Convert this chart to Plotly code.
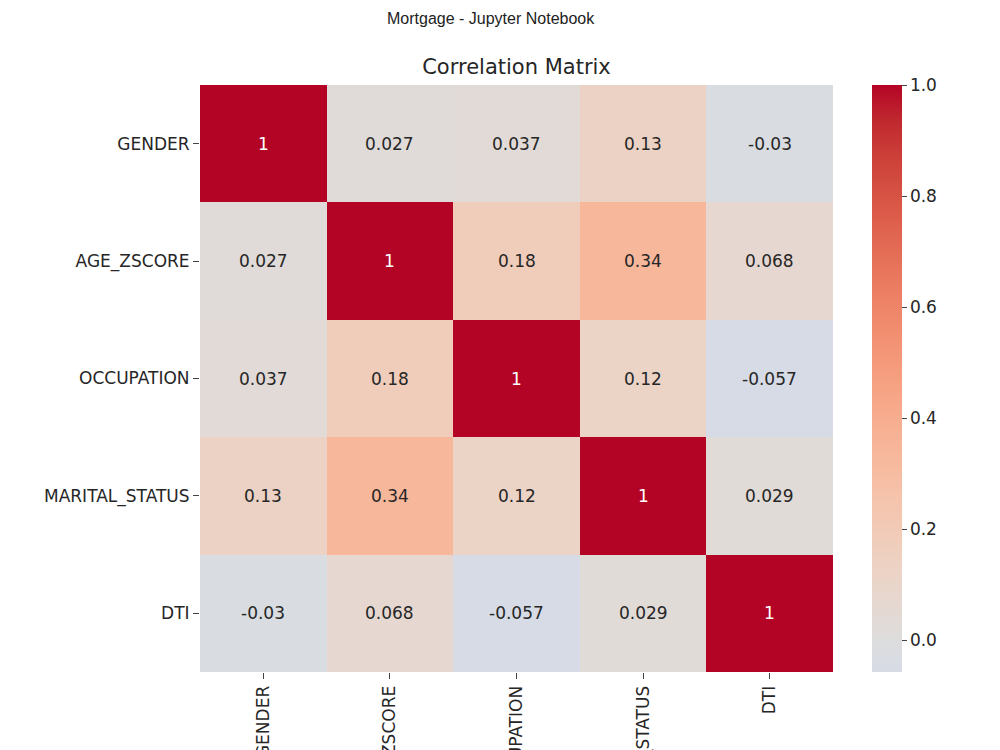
import plotly.graph_objects as go

labels = ["GENDER", "AGE_ZSCORE", "OCCUPATION", "MARITAL_STATUS", "DTI"]
corr = [
    [1.0, 0.027, 0.037, 0.13, -0.03],
    [0.027, 1.0, 0.18, 0.34, 0.068],
    [0.037, 0.18, 1.0, 0.12, -0.057],
    [0.13, 0.34, 0.12, 1.0, 0.029],
    [-0.03, 0.068, -0.057, 0.029, 1.0],
]
cbar_ticks = [0.0, 0.2, 0.4, 0.6, 0.8, 1.0]

# matplotlib "coolwarm" reference points (t in [0,1] over [-1, 1])
coolwarm = [
    (0.46875, (213, 219, 230)), (0.5, (221, 221, 221)), (0.53125, (229, 216, 209)),
    (0.5625, (236, 211, 197)), (0.59375, (241, 204, 185)), (0.625, (245, 196, 173)),
    (0.65625, (247, 187, 160)), (0.6875, (247, 177, 148)), (0.71875, (247, 166, 135)),
    (0.75, (244, 154, 123)), (0.78125, (241, 141, 111)), (0.8125, (236, 127, 99)),
    (0.84375, (229, 112, 88)), (0.875, (222, 96, 77)), (0.90625, (213, 80, 66)),
    (0.9375, (203, 62, 56)), (0.96875, (192, 40, 47)), (1.0, (180, 4, 38)),
]
zmin = min(min(r) for r in corr)
zmax = 1.0
t0 = (zmin + 1) / 2
scale = []
for t, c in coolwarm:
    s = (t - t0) / (1 - t0)
    if s < 0:
        continue
    scale.append([s, "rgb(%d,%d,%d)" % c])
(ta, ca), (tb, cb) = coolwarm[0], coolwarm[1]
f = (t0 - ta) / (tb - ta)
c0 = tuple(round(ca[i] + f * (cb[i] - ca[i])) for i in range(3))
scale.insert(0, [0.0, "rgb(%d,%d,%d)" % c0])

FONT = "DejaVu Sans"
TXT = "#262626"

fig = go.Figure(go.Heatmap(
    z=corr, x=labels, y=labels, zmin=zmin, zmax=zmax, colorscale=scale,
    xgap=0, ygap=0,
    colorbar=dict(
        x=(872 - 200) / 633, xanchor="left", xref="paper",
        y=0.5, yanchor="middle", len=1.0, lenmode="fraction", ypad=0, xpad=0,
        thickness=30, outlinewidth=0,
        tickvals=cbar_ticks, tickformat=".1f", ticks="outside", ticklen=5,
        tickcolor="#444", tickfont=dict(family=FONT, size=17, color=TXT),
    ),
    hoverinfo="skip",
))

anns = []
for i, row in enumerate(corr):
    for j, v in enumerate(row):
        anns.append(dict(
            x=labels[j], y=labels[i], text=f"{v:.2g}", showarrow=False,
            font=dict(family=FONT, size=17, color="white" if v > 0.6 else TXT),
        ))
anns.append(dict(
    xref="paper", yref="paper", x=(491 - 200) / 633, y=(672 - 19) / 587,
    text="Mortgage - Jupyter Notebook", showarrow=False,
    font=dict(family="Liberation Sans", size=16, color="#222"),
    xanchor="center", yanchor="middle",
))

fig.update_layout(
    width=1000, height=750,
    margin=dict(l=200, r=167, t=85, b=78, autoexpand=False),
    paper_bgcolor="white", plot_bgcolor="white",
    title=dict(text="Correlation Matrix", x=0.5, xref="paper", xanchor="center",
               y=1 - 67 / 750, yref="container", yanchor="middle",
               font=dict(family=FONT, size=21, color=TXT)),
    annotations=anns,
    xaxis=dict(tickangle=-90, ticks="outside", ticklen=6, tickcolor="#444",
               showgrid=False, zeroline=False, showline=False,
               tickfont=dict(family=FONT, size=17, color=TXT), automargin=False),
    yaxis=dict(autorange="reversed", ticks="outside", ticklen=6, tickcolor="#444",
               showgrid=False, zeroline=False, showline=False,
               tickfont=dict(family=FONT, size=17, color=TXT), automargin=False),
)

fig.write_html("out.html")
